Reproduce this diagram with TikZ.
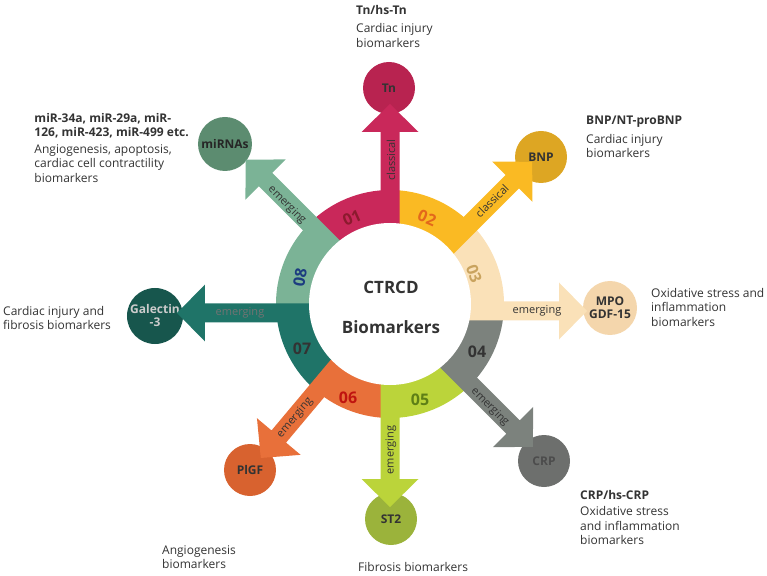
\documentclass[tikz,border=0pt]{standalone}
\usepackage{fontspec}
\setmainfont{Open Sans}
\usetikzlibrary{positioning}
\definecolor{ink}{HTML}{333333}
% ring colours
\definecolor{segA}{HTML}{C9285A}
\definecolor{segB}{HTML}{FABA23}
\definecolor{segC}{HTML}{FAE1B8}
\definecolor{segD}{HTML}{7C827D}
\definecolor{segE}{HTML}{BBD43A}
\definecolor{segF}{HTML}{E8703A}
\definecolor{segG}{HTML}{1F7468}
\definecolor{segH}{HTML}{7BB396}
% bubble colours
\definecolor{bubA}{HTML}{B82350}
\definecolor{bubB}{HTML}{DDA623}
\definecolor{bubC}{HTML}{F4D6AC}
\definecolor{bubD}{HTML}{6D6F6D}
\definecolor{bubE}{HTML}{9BB33B}
\definecolor{bubF}{HTML}{D8622F}
\definecolor{bubG}{HTML}{17564D}
\definecolor{bubH}{HTML}{5C8C70}
% number colours
\definecolor{numA}{HTML}{8C1A2E}
\definecolor{numB}{HTML}{E3681B}
\definecolor{numC}{HTML}{C9A35E}
\definecolor{numE}{HTML}{5E7F16}
\definecolor{numF}{HTML}{C0140F}
\definecolor{numH}{HTML}{1C3C80}
% block arrow: angle, offset, tip, colour
\newcommand{\bioarrow}[4]{%
  \begin{scope}[rotate=#1,yshift=#2]
    \pgfmathsetmacro{\hb}{#3-28}
    \fill[#4] (60,-9.5) -- (\hb,-9.5) -- (\hb,-28.5) -- (#3,0) -- (\hb,28.5) -- (\hb,9.5) -- (60,9.5) -- cycle;
  \end{scope}}

\begin{document}
\begin{tikzpicture}[x=1pt,y=1pt,font=\fontsize{12}{14.5}\selectfont]
  \useasboundingbox (-390,-271) rectangle (377,304);
  \tikzset{bubble/.style={circle,inner sep=0pt,minimum size=52,align=center,
                          font=\bfseries\fontsize{12}{13}\selectfont,text=ink},
           note/.style={inner sep=0pt,align=left,text=ink},
           tag/.style={inner sep=0pt,text=ink,font=\fontsize{11}{11}\selectfont},
           num/.style={inner sep=0pt,font=\bfseries\fontsize{16}{16}\selectfont}}
  % outer bubbles
  \node[bubble,fill=bubA] (tn) at (-1,216) {Tn};
  \node[bubble,fill=bubB] (bnp) at (151,147) {BNP};
  \node[bubble,fill=bubC,minimum size=54] (mpo) at (220,-4) {MPO\\GDF-15};
  \node[bubble,fill=bubD,text=black!70] (crp) at (154,-157) {CRP};
  \node[bubble,fill=bubE] (st2) at (1,-215) {ST2};
  \node[bubble,fill=bubF] (plgf) at (-140,-166) {PlGF};
  \node[bubble,fill=bubG,minimum size=56,text=black!20] (gal) at (-235,-12) {Galectin\\-3};
  \node[bubble,fill=bubH,minimum size=54,text=black!85] (mirna) at (-165,160) {miRNAs};
  % ring sectors
  \foreach \a/\b/\c in {135/90/segA,90/45/segB,45/-4/segC,-4/-45/segD,
                        -45/-90/segE,-90/-130/segF,-130/-175/segG,185/135/segH}
    \fill[\c] (\a:60) -- (\a:114) arc[start angle=\a,end angle=\b,radius=114] -- (\b:60) -- cycle;
  % arrows
  \bioarrow{90}{0}{200}{segA}
  \bioarrow{45}{0}{201}{segB}
  \bioarrow{0}{-7}{197}{segC}
  \bioarrow{-45}{0}{202}{segD}
  \bioarrow{-90}{0}{203}{segE}
  \bioarrow{-130}{0}{201}{segF}
  \bioarrow{180}{9}{213}{segG}
  \bioarrow{135}{0}{204}{segH}
  \fill[white] (0,0) circle[radius=81];
  % segment numbers
  \node[num,text=numA,rotate=24] (nA) at (-38,86) {01};
  \node[num,text=numB,rotate=-23] (nB) at (37,86) {02};
  \node[num,text=numC,rotate=-70] (nC) at (84,30) {03};
  \node[num,text=ink] (nD) at (87,-48) {04};
  \node[num,text=numE] (nE) at (30,-96) {05};
  \node[num,text=numF] (nF) at (-42,-94) {06};
  \node[num,text=ink] (nG) at (-88,-45) {07};
  \node[num,text=numH,rotate=80] (nH) at (-90,26) {08};
  % centre
  \node[font=\bfseries\fontsize{17}{17}\selectfont,text=ink] (title) at (1,17) {CTRCD};
  \node[font=\bfseries\fontsize{17}{17}\selectfont,text=ink] (subtitle) at (1,-23) {Biomarkers};
  % arrow tags
  \node[tag,rotate=90] (tgA) at (1,144) {classical};
  \node[tag,rotate=45] (tgB) at (102,103) {classical};
  \node[tag] (tgC) at (147,-7) {emerging};
  \node[tag,rotate=-45] (tgD) at (100,-103) {emerging};
  \node[tag,rotate=90] (tgE) at (1,-146) {emerging};
  \node[tag,rotate=50] (tgF) at (-95,-114) {emerging};
  \node[tag,text=black!55] (tgG) at (-150,-9) {emerging};
  \node[tag,rotate=-45] (tgH) at (-103,99) {emerging};
  % notes
  \node[note,anchor=north west] (tnnote) at (-34,299)
    {\textbf{Tn/hs-Tn}\\[4pt]Cardiac injury\\biomarkers};
  \node[note,anchor=north west] (bnpnote) at (196,188)
    {\textbf{BNP/NT-proBNP}\\[4pt]Cardiac injury\\biomarkers};
  \node[note,anchor=north east] (mirnote) at (-201,191)
    {\textbf{miR-34a, miR-29a, miR-}\\\textbf{126, miR-423, miR-499 etc.}\\[2pt]Angiogenesis, apoptosis,\\cardiac cell contractility\\biomarkers};
  \node[note,anchor=north west] (galnote) at (-387,-2)
    {Cardiac injury and\\fibrosis biomarkers};
  \node[note,anchor=north west] (mponote) at (261,16)
    {Oxidative stress and\\inflammation\\biomarkers};
  \node[note,anchor=north west] (crpnote) at (190,-186)
    {\textbf{CRP/hs-CRP}\\[2pt]Oxidative stress\\and inflammation\\biomarkers};
  \node[note,anchor=north west] (plgfnote) at (-228,-241)
    {Angiogenesis\\biomarkers};
  \node[note,anchor=west] (st2note) at (-32,-263) {Fibrosis biomarkers};
\end{tikzpicture}
\end{document}
